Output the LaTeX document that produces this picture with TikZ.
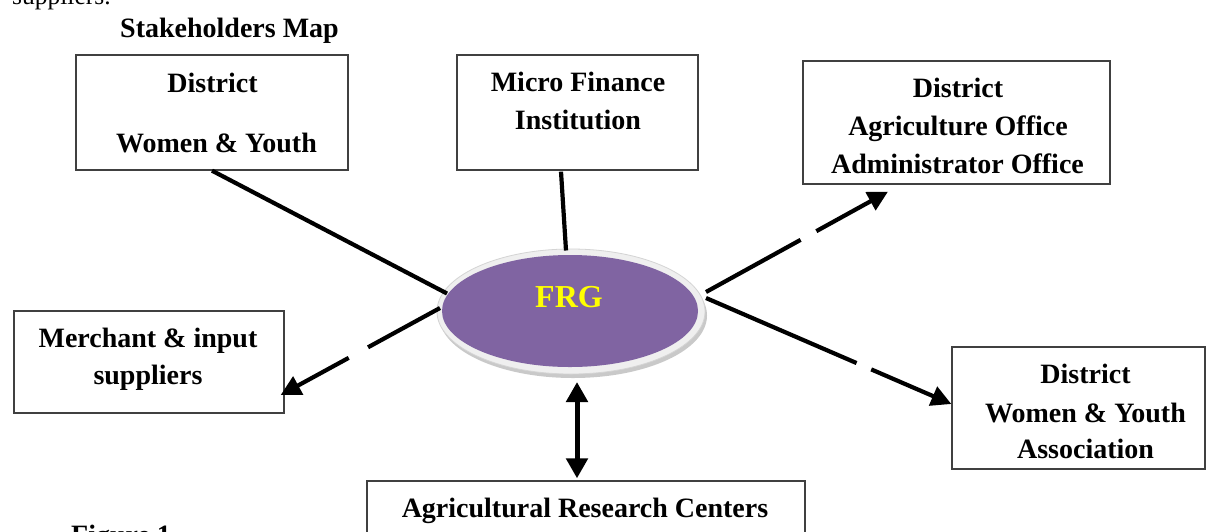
\documentclass[tikz,border=0pt]{standalone}
\usepackage{fontspec}
\setmainfont{Liberation Serif}
\usetikzlibrary{arrows.meta,shapes.geometric,shadows}
\definecolor{frgpurple}{HTML}{8064A2}
\definecolor{ringgray}{HTML}{EFEFEF}
\definecolor{ringline}{HTML}{D4D4D4}
\definecolor{boxline}{HTML}{404040}
\definecolor{frgyellow}{HTML}{FFFF00}
\tikzset{
  boxnode/.style={draw=boxline, line width=1.3pt, rectangle, inner sep=0pt},
  lbl/.style={font=\fontsize{28}{34}\selectfont\bfseries, inner sep=0pt, anchor=base},
  conn/.style={line width=4.2pt, draw=black},
  tipend/.style={-{Triangle[length=20pt,width=20pt]}},
}
\begin{document}
\begin{tikzpicture}[x=1pt,y=-1pt]
\useasboundingbox (0,0) rectangle (1206,531);
\clip (0,0) rectangle (1206,531);
\fill[white] (0,0) rectangle (1206,531);

% cut-off texts at the edges
\node[inner sep=0pt, anchor=base west, font=\fontsize{25.5}{30}\selectfont] (prev) at (12,4) {suppliers.};
\node[lbl, anchor=base west] (title) at (120,37) {Stakeholders Map};
\node[lbl, anchor=base west] (fig) at (71,544) {Figure 1};

% boxes
\node[boxnode, minimum width=272pt, minimum height=115pt] (b1) at (212,112.5) {};
\node[boxnode, minimum width=241pt, minimum height=115pt] (b2) at (577.5,112.5) {};
\node[boxnode, minimum width=307pt, minimum height=123pt] (b3) at (956.5,122.5) {};
\node[boxnode, minimum width=270pt, minimum height=102pt] (b4) at (149,362) {};
\node[boxnode, minimum width=253pt, minimum height=122pt] (b5) at (1078.5,408) {};
\node[boxnode, minimum width=438pt, minimum height=80pt] (b6) at (586,521) {};

% box texts
\node[lbl] (t1a) at (212.5,92) {District};
\node[lbl] (t1b) at (216.5,152) {Women \& Youth};
\node[lbl] (t2a) at (578,91) {Micro Finance};
\node[lbl] (t2b) at (578,129) {Institution};
\node[lbl] (t3a) at (958,97) {District};
\node[lbl] (t3b) at (958,135) {Agriculture Office};
\node[lbl] (t3c) at (957.5,173) {Administrator Office};
\node[lbl] (t4a) at (148,347) {Merchant \& input};
\node[lbl] (t4b) at (148,384) {suppliers};
\node[lbl] (t5a) at (1085.5,383) {District};
\node[lbl] (t5b) at (1085.5,422) {Women \& Youth};
\node[lbl] (t5c) at (1085.5,458) {Association};
\node[lbl] (t6) at (585,517) {Agricultural Research Centers};

% central ellipse
\node[ellipse, minimum width=268pt, minimum height=125pt, inner sep=0pt,
      fill=ringgray, draw=ringline, line width=0.8pt,
      drop shadow={shadow xshift=2pt, shadow yshift=-4pt, fill=black!35, opacity=0.6}]
      (frg) at (571,311.5) {};
\node[ellipse, minimum width=256pt, minimum height=112pt, inner sep=0pt,
      fill=frgpurple] (frgin) at (570,311) {};
\node[inner sep=0pt, anchor=base, text=frgyellow,
      font=\fontsize{32}{36}\selectfont\bfseries] (frgtxt) at (569,307) {FRG};

% connectors
\draw[conn] (b1.south) -- ([shift={(-124,-18)}]frg.center);
\draw[conn] ([shift={(-16.5,1)}]b2.south) -- ([shift={(-5,-61)}]frg.center);
\draw[conn, tipend, dash pattern=on 108pt off 18pt]
  ([shift={(135,-19.5)}]frg.center) -- ([shift={(-68.5,7)}]b3.south);
\draw[conn, tipend, dash pattern=on 164pt off 16pt]
  ([shift={(135,-13.5)}]frg.center) -- ([shift={(0,-4)}]b5.west);
\draw[conn, tipend, dash pattern=on 82pt off 22pt]
  ([shift={(-131,-3.5)}]frg.center) -- ([shift={(-4,33)}]b4.east);
\draw[line width=5pt, {Triangle[length=20pt,width=21pt]}-{Triangle[length=20pt,width=21pt]}]
  ([shift={(6,70.5)}]frg.center) -- ([shift={(-9,-2)}]b6.north);
\end{tikzpicture}
\end{document}
